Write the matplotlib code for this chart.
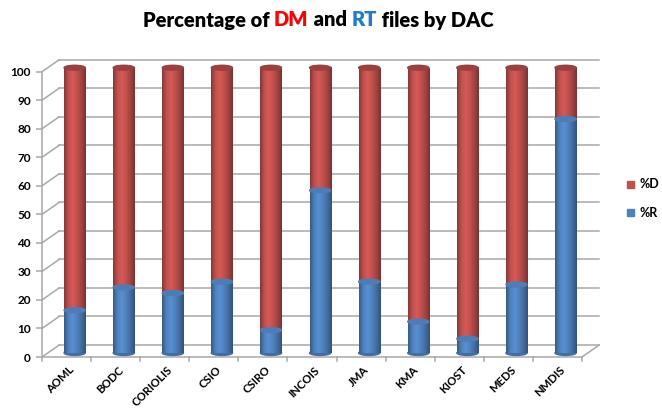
import numpy as np
import matplotlib
matplotlib.use("Agg")
import matplotlib.pyplot as plt
from matplotlib.patches import Ellipse, Rectangle
from matplotlib.colors import LinearSegmentedColormap

categories = ["AOML", "BODC", "CORIOLIS", "CSIO", "CSIRO", "INCOIS", "JMA",
              "KMA", "KIOST", "MEDS", "NMDIS"]
pct_R = [15, 23, 21, 25, 8, 57, 25, 11, 5, 24, 82]
pct_D = [100 - v for v in pct_R]
yticks = list(range(0, 101, 10))

RED = "#C0504D"
BLUE = "#4F81BD"
GRID = "#A8A8A8"
FONT = ["Lato", "DejaVu Sans"]

n = len(categories)
fig = plt.figure(figsize=(6.62, 4.12), dpi=100)
# front plane: x 42..582 px, y 357..71.7 px
ax = fig.add_axes([42 / 662, 1 - 357 / 412, 540 / 662, (357 - 71.7) / 412])
ax.set_xlim(-0.5, n - 0.5)
ax.set_ylim(0, 100)
for s in ax.spines.values():
    s.set_visible(False)

# 3-D offsets (in data units)
BDX, BDY = 0.35, 4.2      # back wall
MDX, MDY = 0.165, 1.4     # bar mid-depth

# walls / grid
lk = dict(color=GRID, lw=1.1, clip_on=False, zorder=0)
for t in yticks:
    ax.plot([-0.5 + BDX, n - 0.5 + BDX], [t + BDY, t + BDY], **lk)
    ax.plot([-0.5, -0.5 + BDX], [t, t + BDY], **lk)
ax.plot([-0.5, -0.5], [0, 100], **lk)
ax.plot([-0.5, n - 0.5], [0, 0], **lk)
ax.plot([n - 0.5, n - 0.5 + BDX], [0, BDY], **lk)
for k in range(n + 1):
    ax.plot([k - 0.5, k - 0.5], [0, -1.4], **lk)

def shade_cmap(base):
    c = np.array(matplotlib.colors.to_rgb(base))
    dark = c * 0.7
    light = np.clip(c * 1.12, 0, 1)
    return LinearSegmentedColormap.from_list("s", [dark, c, light, c, c * 0.85, dark * 0.9])

cm_blue = shade_cmap(BLUE)
cm_red = shade_cmap(RED)
grad = np.linspace(0, 1, 64).reshape(1, -1)
w = 0.43
eh = 1.7
blue_rgb = np.array(matplotlib.colors.to_rgb(BLUE))
red_rgb = np.array(matplotlib.colors.to_rgb(RED))

for i, (r, d) in enumerate(zip(pct_R, pct_D)):
    xc = i + MDX
    x0 = xc - w / 2
    ax.imshow(grad, extent=[x0, x0 + w, MDY, r + MDY], aspect="auto", cmap=cm_blue,
              zorder=2, interpolation="bicubic", clip_on=False)
    ax.add_patch(Ellipse((xc, MDY), w, eh, color=blue_rgb * 0.85, zorder=1.9, clip_on=False))
    ax.imshow(grad, extent=[x0, x0 + w, r + MDY, r + d + MDY], aspect="auto", cmap=cm_red,
              zorder=2, interpolation="bicubic", clip_on=False)
    ax.add_patch(Ellipse((xc, r + MDY), w, eh, color=blue_rgb * 0.97, zorder=2.5, clip_on=False))
    ax.add_patch(Ellipse((xc, r + d + MDY), w, eh, color=red_rgb * 0.8, zorder=2.5, clip_on=False))

ax.set_xlim(-0.5, n - 0.5)
ax.set_ylim(0, 100)
ax.set_yticks(yticks)
ax.set_yticklabels([str(t) for t in yticks], fontsize=8.5, fontweight="bold", family=FONT)
ax.tick_params(axis="y", length=4, color=GRID, pad=4, width=1.1)
ax.set_xticks([i + 0.12 for i in range(n)])
ax.set_xticklabels(categories, rotation=45, ha="right", va="center", rotation_mode="anchor",
                   fontsize=8.2, fontweight="bold", family=FONT)
ax.tick_params(axis="x", length=0, pad=8)

# legend
fig.patches.append(Rectangle((627 / 662, 1 - 188 / 412), 7 / 662, 7 / 412,
                             transform=fig.transFigure, color=RED))
fig.patches.append(Rectangle((627 / 662, 1 - 216 / 412), 7 / 662, 7 / 412,
                             transform=fig.transFigure, color=BLUE))
fig.text(639 / 662, 1 - 184.5 / 412, "%D", fontsize=9, fontweight="bold", family=FONT, va="center")
fig.text(639 / 662, 1 - 212.5 / 412, "%R", fontsize=9, fontweight="bold", family=FONT, va="center")

# title with coloured words
pieces = [("Percentage of ", "black"), ("DM", "#FF0000"), (" and ", "black"),
          ("RT", "#1F7BD0"), (" files by DAC", "black")]
renderer = fig.canvas.get_renderer()
texts = []
total = 0
for s, c in pieces:
    t = fig.text(0, 1 - 20 / 412, s, fontsize=14.5, fontweight="heavy", family=FONT, color=c, va="center")
    bb = t.get_window_extent(renderer)
    texts.append((t, bb.width))
    total += bb.width
xpix = 318 - total / 2
for t, wd in texts:
    t.set_x(xpix / 662)
    xpix += wd

fig.savefig("out.png", dpi=100)
